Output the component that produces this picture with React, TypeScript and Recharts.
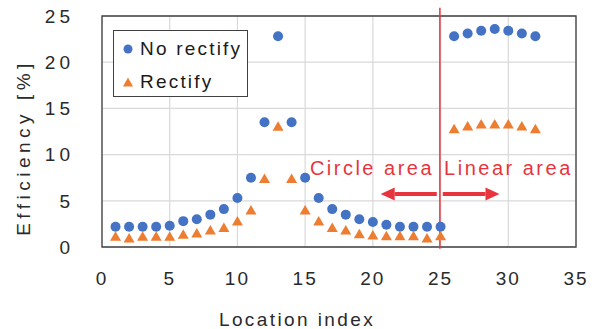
import React from "react";
import {
  ScatterChart,
  Scatter,
  XAxis,
  YAxis,
  CartesianGrid,
  ReferenceArea,
  ReferenceLine,
  ReferenceDot,
} from "recharts";

// location index 1..32
const locations = [1, 2, 3, 4, 5, 6, 7, 8, 9, 10, 11, 12, 13, 14, 15, 16, 17, 18, 19, 20, 21, 22, 23, 24, 25, 26, 27, 28, 29, 30, 31, 32];
const noRectify = [2.2, 2.2, 2.2, 2.2, 2.3, 2.8, 3.0, 3.5, 4.1, 5.3, 7.5, 13.5, 22.8, 13.5, 7.5, 5.3, 4.1, 3.5, 3.0, 2.7, 2.4, 2.2, 2.2, 2.2, 2.2, 22.8, 23.1, 23.4, 23.6, 23.4, 23.1, 22.8];
const rectify = [1.05, 0.87, 1.05, 1.05, 1.05, 1.26, 1.4, 1.73, 2.0, 2.7, 3.9, 7.3, 12.95, 7.3, 3.9, 2.7, 2.0, 1.73, 1.33, 1.2, 1.1, 1.1, 1.1, 0.87, 1.1, 12.7, 13.0, 13.2, 13.2, 13.2, 13.0, 12.7];
const xTicks = [0, 5, 10, 15, 20, 25, 30, 35];
const yTicks = [0, 5, 10, 15, 20, 25];

const noRectifyData = locations.map((x, i) => ({ x, y: noRectify[i] }));
const rectifyData = locations.map((x, i) => ({ x, y: rectify[i] }));

const BLUE = "#4472c4";
const ORANGE = "#ed7d31";
const RED = "#e8343c";
const FONT = "'Liberation Sans', Arial, sans-serif";

const Dot = (p: any) => <circle cx={p.cx} cy={p.cy} r={5} fill={BLUE} />;
const Tri = (p: any) => (
  <path d={`M${p.cx},${p.cy - 6}L${p.cx + 5.5},${p.cy + 3.5}L${p.cx - 5.5},${p.cy + 3.5}Z`} fill={ORANGE} />
);

const Arrow = (p: any) => {
  const { x1, y1, x2, y2 } = p;
  const dir = x2 > x1 ? 1 : -1;
  const hx = x2 - dir * 14;
  return (
    <g>
      <line x1={x1} y1={y1} x2={hx} y2={y2} stroke={RED} strokeWidth={4} />
      <path d={`M${x2},${y2}L${hx},${y2 - 6.5}L${hx},${y2 + 6.5}Z`} fill={RED} />
    </g>
  );
};

const areaText = (txt: string) => (p: any) => (
  <text x={p.cx} y={p.cy} fill={RED} fontSize={20} letterSpacing={2.5} fontFamily={FONT}>
    {txt}
  </text>
);

export default function App() {
  return (
    <div style={{ position: "relative", width: 594, height: 329, fontFamily: FONT }}>
      <style>{`body{margin:0}`}</style>
      <ScatterChart width={594} height={329} margin={{ top: 16, right: 18, bottom: 0, left: 0 }}>
        <CartesianGrid stroke="#d9d9d9" strokeWidth={1.2} />
        <XAxis
          type="number"
          dataKey="x"
          domain={[0, 35]}
          ticks={xTicks}
          height={82}
          axisLine={false}
          tickLine={false}
          tickMargin={19}
          tick={{ fontSize: 19, fill: "#2a2a2a", letterSpacing: 2 }}
          label={{
            content: (p: any) => {
              const vb = p.viewBox;
              return (
                <text x={vb.x + vb.width / 2 - 42} y={vb.y + vb.height - 3} textAnchor="middle" fontSize={19} letterSpacing={2.4} fill="#2a2a2a">
                  Location index
                </text>
              );
            },
          }}
        />
        <YAxis
          type="number"
          dataKey="y"
          domain={[0, 25]}
          ticks={yTicks}
          width={102}
          axisLine={false}
          tickLine={false}
          tickMargin={22}
          tick={{ fontSize: 19, fill: "#2a2a2a", letterSpacing: 4 }}
          label={{
            content: (p: any) => {
              const vb = p.viewBox;
              const cy = vb.y + vb.height / 2 + 16;
              return (
                <text transform={`translate(23,${cy}) rotate(-90)`} textAnchor="middle" dominantBaseline="central" fontSize={19} letterSpacing={4.5} fill="#2a2a2a">
                  Efficiency [%]
                </text>
              );
            },
          }}
        />
        <ReferenceArea x1={0} x2={35} y1={0} y2={25} fill="none" stroke="#404040" strokeWidth={1.3} />
        <ReferenceLine segment={[{ x: 24.95, y: 25.9 }, { x: 24.95, y: -0.2 }]} stroke={RED} strokeWidth={1.5} ifOverflow="visible" />
        <ReferenceLine segment={[{ x: 24.72, y: 5.74 }, { x: 20.58, y: 5.74 }]} shape={Arrow} ifOverflow="visible" />
        <ReferenceLine segment={[{ x: 25.16, y: 5.74 }, { x: 29.35, y: 5.74 }]} shape={Arrow} ifOverflow="visible" />
        <ReferenceDot x={15.35} y={7.8} r={0} shape={areaText("Circle area")} ifOverflow="visible" />
        <ReferenceDot x={25.26} y={7.8} r={0} shape={areaText("Linear area")} ifOverflow="visible" />
        <Scatter name="No rectify" data={noRectifyData} shape={Dot} isAnimationActive={false} />
        <Scatter name="Rectify" data={rectifyData} shape={Tri} isAnimationActive={false} />
      </ScatterChart>
      <div
        style={{
          position: "absolute",
          left: 113,
          top: 30,
          width: 135,
          height: 67,
          border: "1.3px solid #404040",
          background: "#fff",
          fontSize: 19,
          letterSpacing: 2.2,
          color: "#1a1a1a",
          boxSizing: "border-box",
        }}
      >
        <div style={{ position: "absolute", left: 8, top: 7, display: "flex", alignItems: "center", whiteSpace: "nowrap" }}>
          <svg width={12} height={12} style={{ marginRight: 6 }}>
            <circle cx={6} cy={6} r={4.5} fill={BLUE} />
          </svg>
          No rectify
        </div>
        <div style={{ position: "absolute", left: 8, top: 40, display: "flex", alignItems: "center", whiteSpace: "nowrap" }}>
          <svg width={12} height={12} style={{ marginRight: 6 }}>
            <path d="M6,1.5L11,10.5L1,10.5Z" fill={ORANGE} />
          </svg>
          Rectify
        </div>
      </div>
    </div>
  );
}
